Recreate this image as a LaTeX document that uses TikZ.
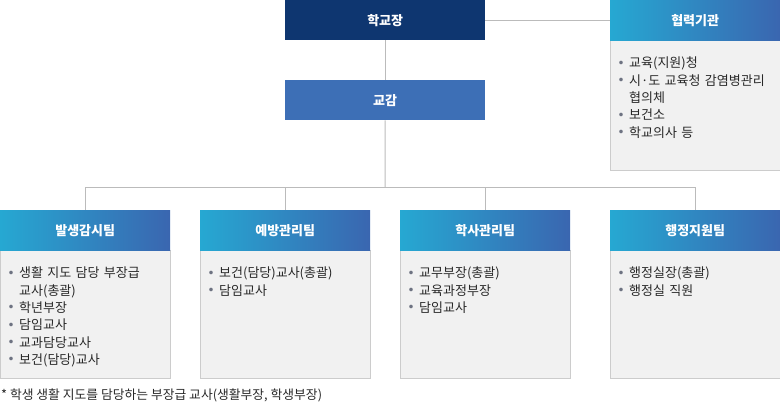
\documentclass[tikz,border=0pt]{standalone}
\usepackage{fontspec}
\setmainfont{Noto Sans CJK KR}
\usetikzlibrary{positioning,backgrounds}
\definecolor{ChiefNavy}{RGB}{14,54,112}
\definecolor{ViceBlue}{RGB}{61,111,182}
\definecolor{TeamCyan}{RGB}{38,168,210}
\definecolor{TeamBlue}{RGB}{58,102,176}
\definecolor{BodyGray}{RGB}{241,241,241}
\definecolor{EdgeGray}{RGB}{204,204,204}
\definecolor{LineGray}{RGB}{187,187,187}
\definecolor{TextDark}{RGB}{40,40,40}
\definecolor{DotGray}{RGB}{110,115,130}
\newcommand{\entry}[1]{\par\hangindent=10pt\hangafter=1\noindent\makebox[10pt][l]{\raisebox{3.6pt}{\textcolor{DotGray}{\fontsize{4}{4}\selectfont ●}}}#1}

\begin{document}
\begin{tikzpicture}[x=1pt, y=-1pt,
chief/.style={anchor=north west, minimum width=200pt, minimum height=40pt, inner sep=0pt, text=white, font=\fontsize{13}{15}\selectfont\bfseries},
teamhead/.style={anchor=north west, minimum width=170pt, minimum height=40pt, inner sep=0pt, left color=TeamCyan, right color=TeamBlue, text=white, font=\fontsize{13}{15}\selectfont\bfseries},
teambody/.style={draw=EdgeGray, fill=BodyGray, minimum width=170pt, inner sep=0pt, anchor=north},
list/.style={anchor=north west, text width=158pt, align=left, inner sep=0pt, text=TextDark, font=\fontsize{13}{17.3}\selectfont},
link/.style={draw=LineGray, line width=1pt},
note/.style={anchor=west, inner sep=0pt, text=TextDark, font=\fontsize{12.8}{14}\selectfont}
]
\useasboundingbox (0,0) rectangle (780,405);

\node[chief, fill=ChiefNavy] (head) at (285,0) {학교장};
\node[chief, fill=ViceBlue] (vice) at (285,80) {교감};
\node[teamhead] (coop) at (610,0) {협력기관};

\node[teamhead] (watch) at (0,210) {발생감시팀};
\node[teamhead] (prevent) at (200,210) {예방관리팀};
\node[teamhead] (academic) at (400,210) {학사관리팀};
\node[teamhead] (admin) at (610,210) {행정지원팀};

\begin{scope}[on background layer]
\node[teambody, minimum height=130pt] (coopbody) at (coop.south) {};
\node[teambody, minimum height=128pt] (watchbody) at (watch.south) {};
\node[teambody, minimum height=128pt] (preventbody) at (prevent.south) {};
\node[teambody, minimum height=128pt] (academicbody) at (academic.south) {};
\node[teambody, minimum height=128pt] (adminbody) at (admin.south) {};
\end{scope}

\node[list] (cooplist) at ([xshift=9pt,yshift=-10pt]coopbody.north west) {\entry{교육(지원)청}\entry{시·도 교육청 감염병관리\newline 협의체}\entry{보건소}\entry{학교의사 등}};
\node[list] (watchlist) at ([xshift=9pt,yshift=-10pt]watchbody.north west) {\entry{생활 지도 담당 부장급\newline 교사(총괄)}\entry{학년부장}\entry{담임교사}\entry{교과담당교사}\entry{보건(담당)교사}};
\node[list] (preventlist) at ([xshift=9pt,yshift=-10pt]preventbody.north west) {\entry{보건(담당)교사(총괄)}\entry{담임교사}};
\node[list] (academiclist) at ([xshift=9pt,yshift=-10pt]academicbody.north west) {\entry{교무부장(총괄)}\entry{교육과정부장}\entry{담임교사}};
\node[list] (adminlist) at ([xshift=9pt,yshift=-10pt]adminbody.north west) {\entry{행정실장(총괄)}\entry{행정실 직원}};

\node[note] (footnote) at (1,395) {* 학생 생활 지도를 담당하는 부장급 교사(생활부장, 학생부장)};

\coordinate (split) at (385,187);
\draw[link] (head.east) -- (coop.west);
\draw[link] (head) -- (vice);
\draw[link] (vice) -- (split);
\foreach \team in {watch,prevent,academic,admin}
  \draw[link] (split) -| (\team.north);
\end{tikzpicture}
\end{document}
